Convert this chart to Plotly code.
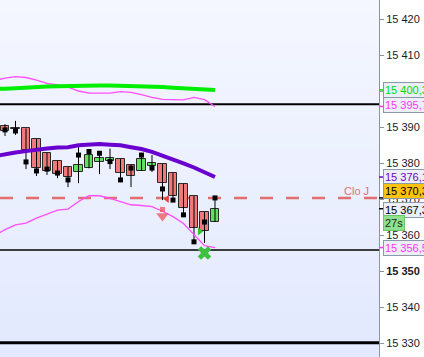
import plotly.graph_objects as go

# ---------------- data ----------------
idx = list(range(21))
opens  = [15390.3, 15389.6, 15389.6, 15386.7, 15382.8, 15380.6, 15378.9, 15377.5, 15378.5, 15380.2,
          15380.6, 15381.1, 15379.4, 15377.8, 15379.2, 15379.7, 15377.2, 15374.2, 15370.8, 15366.4, 15363.6]
highs  = [15390.8, 15391.7, 15389.6, 15386.7, 15382.8, 15380.6, 15378.9, 15384.4, 15383.6, 15383.1,
          15384.0, 15381.1, 15379.4, 15382.8, 15382.2, 15379.7, 15377.2, 15374.2, 15370.8, 15366.4, 15370.6]
lows   = [15387.5, 15387.8, 15378.3, 15376.4, 15376.7, 15375.8, 15373.3, 15374.4, 15378.5, 15376.9,
          15378.3, 15374.7, 15373.3, 15377.8, 15377.5, 15369.7, 15369.2, 15366.1, 15358.6, 15357.8, 15363.6]
closes = [15388.9, 15389.5, 15383.6, 15378.6, 15377.8, 15376.9, 15376.1, 15379.4, 15382.2, 15381.3,
          15381.4, 15377.2, 15376.4, 15381.1, 15380.0, 15374.4, 15370.8, 15367.5, 15361.9, 15361.1, 15367.3]
stops  = [15389.2, 15388.9, 15380.3, 15377.8, 15378.3, 15377.2, 15375.3, 15382.2, 15383.2, 15382.7,
          15380.4, 15375.3, 15378.6, 15382.2, 15378.6, 15372.8, 15369.7, 15365.6, 15358.1, 15363.6, 15370.3]

line_idx = [-1] + idx
purple_ma = [15381.9, 15382.5, 15382.9, 15383.3, 15383.75, 15384.0, 15384.3, 15384.4, 15384.9, 15385.1, 15385.3,
             15385.1, 15384.9, 15384.4, 15383.9, 15383.1, 15382.1, 15381.0, 15379.9, 15378.75, 15377.5, 15376.1]
green_ma = [15400.7, 15400.6, 15400.8, 15401.0, 15401.1, 15401.25, 15401.3, 15401.4, 15401.45, 15401.47, 15401.5,
            15401.5, 15401.47, 15401.4, 15401.3, 15401.2, 15401.1, 15400.9, 15400.75, 15400.55, 15400.4, 15400.3]
upper_band = [15402.9, 15403.6, 15403.97, 15403.75, 15403.05, 15402.1, 15401.7, 15401.1, 15400.0, 15399.4, 15399.4,
              15399.4, 15399.8, 15399.6, 15399.0, 15398.2, 15397.7, 15397.6, 15397.55, 15398.2, 15397.6, 15395.7]
lower_band = [15359.8, 15361.5, 15362.8, 15363.3, 15364.7, 15365.8, 15366.9, 15367.2, 15369.3, 15370.9, 15370.9,
              15370.2, 15369.2, 15368.4, 15368.2, 15367.9, 15366.6, 15365.1, 15363.2, 15360.1, 15357.05, 15356.5]

close_prev_day = 15370.3
hlines = [15396.3, 15355.8, 15330.1]
hline_widths = [2, 1.5, 3]

tick_vals = [15330, 15340, 15350, 15360, 15370, 15380, 15390, 15400, 15410, 15420]
tick_text = ["15 330", "15 340", "<b>15 350</b>", "15 360", "15 370", "15 380", "15 390", "15 400", "15 410", "15 420"]

sell_arrow_x = 15
sell_arrow_shaft = 15367.1
sell_arrow_head = 15365.3
red_tri = (15.43, 15370.0)
green_tri = (18.54, 15361.0)
green_x = (19, 15355.0)

# tag labels: (text, value, font colour, bg colour, yshift)
tags = [
    ("15 400,3", 15400.3, "#00dd00", "#eceff5", 0),
    ("15 395,7", 15395.7, "#ff33ff", "#eceff5", 1),
    ("15 376,1", 15376.1, "#7000cc", "#eceff5", 0),
    ("15 370,3", 15370.3, "#000000", "#ffc20e", 7),
    ("15 367,3", 15367.3, "#000000", "#eceff5", -1),
    ("15 356,5", 15356.5, "#ff33ff", "#eceff5", 0),
]

# ---------------- figure ----------------
Y0, Y1 = 15326.11, 15425.28
X0, X1 = -0.476, 35.62

fig = go.Figure()

# gradient background
n = 24
def lerp(a, b, t):
    return int(round(a + (b - a) * t))
top = (0xf4, 0xf7, 0xff)
bot = (0xe3, 0xe9, 0xfe)
shapes = []
for k in range(n):
    t = k / (n - 1)
    c = "rgb(%d,%d,%d)" % (lerp(top[0], bot[0], t), lerp(top[1], bot[1], t), lerp(top[2], bot[2], t))
    shapes.append(dict(type="rect", xref="paper", yref="paper", x0=0, x1=1,
                       y0=1 - (k + 1) / n, y1=1 - k / n + 0.002, fillcolor=c,
                       line=dict(width=0), layer="below"))
for v, w in zip(hlines, hline_widths):
    shapes.append(dict(type="line", xref="paper", yref="y", x0=0, x1=1, y0=v, y1=v,
                       line=dict(color="black", width=w), layer="below"))
shapes.append(dict(type="line", xref="paper", yref="y", x0=0, x1=1, y0=close_prev_day, y1=close_prev_day,
                   line=dict(color="#e46e6e", width=2.5, dash="13px,13px"), layer="below"))
# coloured tick marks for tags
for text, v, fc, bg, ys in tags:
    shapes.append(dict(type="line", xref="paper", yref="y", x0=1.0, x1=1.0106, y0=v, y1=v,
                       line=dict(color=fc, width=1.5), layer="above"))

# wicks
wx, wy = [], []
for i, h, l in zip(idx, highs, lows):
    wx += [i, i, None]
    wy += [l, h, None]
fig.add_trace(go.Scatter(x=wx, y=wy, mode="lines", line=dict(color="black", width=1),
                         hoverinfo="skip", showlegend=False))

# lines
fig.add_trace(go.Scatter(x=line_idx, y=upper_band, mode="lines", line=dict(color="#ff4dff", width=1.3),
                         showlegend=False))
fig.add_trace(go.Scatter(x=line_idx, y=lower_band, mode="lines", line=dict(color="#ff4dff", width=1.3),
                         showlegend=False))
fig.add_trace(go.Scatter(x=line_idx, y=green_ma, mode="lines", line=dict(color="#00ee00", width=4),
                         showlegend=False))
fig.add_trace(go.Scatter(x=line_idx, y=purple_ma, mode="lines", line=dict(color="#6a00d0", width=4),
                         showlegend=False))

# bodies
up_x, up_b, up_h, dn_x, dn_b, dn_h = [], [], [], [], [], []
for i, o, c in zip(idx, opens, closes):
    if c > o:
        up_x.append(i); up_b.append(o); up_h.append(c - o)
    else:
        dn_x.append(i); dn_b.append(c); dn_h.append(max(o - c, 0.1))
fig.add_trace(go.Bar(x=dn_x, y=dn_h, base=dn_b, width=0.8,
                     marker=dict(color="#f07a7a", line=dict(color="#2a2a2a", width=1)), showlegend=False))
fig.add_trace(go.Bar(x=up_x, y=up_h, base=up_b, width=0.8,
                     marker=dict(color="#5fe05f", line=dict(color="#2a2a2a", width=1)), showlegend=False))

# stop squares
fig.add_trace(go.Scatter(x=idx, y=stops, mode="markers",
                         marker=dict(symbol="square", size=5, color="black", line=dict(width=0)),
                         showlegend=False))

# event markers: block sell arrow (shaft + head)
fig.add_trace(go.Scatter(x=[sell_arrow_x, sell_arrow_x], y=[sell_arrow_shaft, sell_arrow_head], mode="markers",
                         marker=dict(symbol=["square", "triangle-down"], size=[5, 11], color="#ea4a4a",
                                     line=dict(width=0)),
                         showlegend=False))
fig.add_trace(go.Scatter(x=[red_tri[0]], y=[red_tri[1]], mode="markers",
                         marker=dict(symbol="triangle-left", size=7, color="#e04040", line=dict(width=0)),
                         showlegend=False))
fig.add_trace(go.Scatter(x=[green_tri[0]], y=[green_tri[1]], mode="markers",
                         marker=dict(symbol="triangle-right", size=7, color="#30c030", line=dict(width=0)),
                         showlegend=False))
fig.add_trace(go.Scatter(x=[green_x[0]], y=[green_x[1]], mode="markers",
                         marker=dict(symbol="x", size=12, color="#40c040", line=dict(width=0)),
                         showlegend=False))

annotations = []
annotations.append(dict(xref="paper", yref="y", x=0.94, y=close_prev_day, yshift=7, text="Clo J",
                        showarrow=False, font=dict(family="Liberation Sans, Arial", size=11, color="#e46e6e"),
                        xanchor="center", yanchor="middle"))
for text, v, fc, bg, ys in tags:
    annotations.append(dict(xref="paper", yref="y", x=1.0106, y=v, yshift=ys, text=text, showarrow=False,
                            xanchor="left", yanchor="middle", align="left",
                            font=dict(family="Liberation Sans, Arial", size=11, color=fc),
                            bgcolor=bg, bordercolor="#8a98ac", borderwidth=1, borderpad=1))
annotations.append(dict(xref="paper", yref="y", x=1.0106, y=15363.3, text="27s", showarrow=False,
                        xanchor="left", yanchor="middle",
                        font=dict(family="Liberation Sans, Arial", size=11, color="#1a2a1a"),
                        bgcolor="#8fe08f", bordercolor="#6cc46c", borderwidth=1, borderpad=1))

fig.update_layout(
    width=424, height=357,
    margin=dict(l=0, r=45, t=0, b=0, autoexpand=False),
    paper_bgcolor="white", plot_bgcolor="#eef2fe",
    barmode="overlay", bargap=0,
    showlegend=False,
    shapes=shapes, annotations=annotations,
    xaxis=dict(range=[X0, X1], visible=False, fixedrange=True),
    yaxis=dict(range=[Y0, Y1], side="right", showgrid=False, zeroline=False, automargin=False,
               showline=True, linecolor="#8795a8", linewidth=1,
               ticks="outside", ticklen=4, tickcolor="#8795a8",
               tickvals=tick_vals, ticktext=tick_text,
               tickfont=dict(family="Liberation Sans, Arial", size=11, color="#1a1a1a")),
)

fig.write_html("out.html", config={"displayModeBar": False},
               post_script="document.body.style.margin='0';document.body.style.overflow='hidden';")
